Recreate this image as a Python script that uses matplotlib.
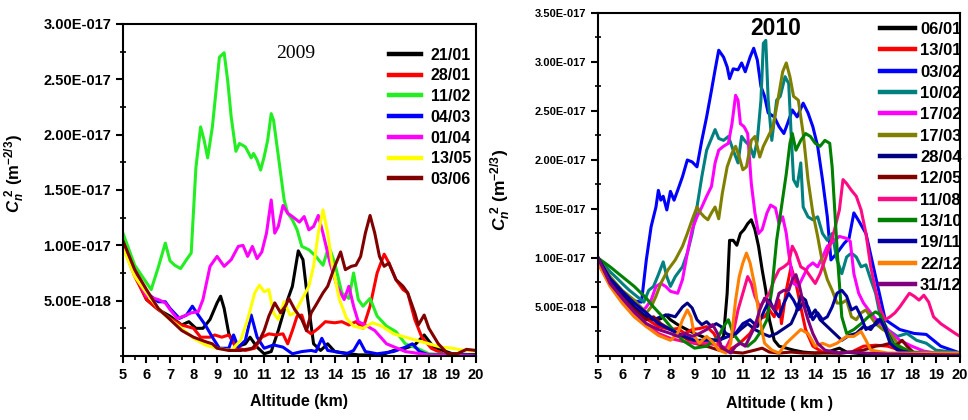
import numpy as np
import matplotlib
matplotlib.use("Agg")
import matplotlib.pyplot as plt
from matplotlib.ticker import FuncFormatter, MultipleLocator

plt.rcParams['font.family'] = ['Liberation Sans', 'DejaVu Sans']
plt.rcParams['font.weight'] = 'bold'
plt.rcParams['mathtext.fontset'] = 'custom'
plt.rcParams['mathtext.it'] = 'Liberation Sans:italic:bold'
plt.rcParams['mathtext.rm'] = 'Liberation Sans:bold'

SCALE = 1e-18   # values below are in units of 1e-18 m^-2/3

# ---------------- 2009 ----------------
dates_2009 = ['21/01', '28/01', '11/02', '04/03', '01/04', '13/05', '03/06']
colors_2009 = ['#000000', '#ff0000', '#22ee22', '#0000ff', '#ff00ff', '#ffff00', '#800000']

alt_2101 = [5, 5.5, 6, 6.5, 7, 7.5, 7.8, 8.1, 8.4, 8.7, 9.0, 9.15, 9.3, 9.5, 9.8, 10.2, 10.4, 10.7, 11.0, 11.3,
            11.6, 11.9, 12.2, 12.45, 12.65, 12.85, 13.1, 13.4, 13.7, 14.0, 15, 16, 16.5, 17.0, 17.4, 17.8, 18.2, 19, 20]
cn2_2101 = [10.5, 7.5, 5.1, 4.2, 3.6, 2.8, 3.1, 2.5, 2.5, 3.3, 4.8, 5.4, 4.3, 2.0, 0.8, 1.1, 1.7, 0.8, 0.2, 0.4,
            2.3, 4.5, 6.3, 9.5, 8.7, 5.1, 1.1, 0.5, 1.1, 0.4, 0.1, 0.1, 0.5, 0.7, 1.0, 1.9, 0.8, 0.2, 0.1]

alt_2801 = [5, 5.5, 6, 6.5, 7, 7.5, 8.0, 8.3, 8.7, 8.9, 9.2, 9.5, 9.8, 10.2, 10.6, 10.9, 11.2, 11.5, 11.8, 12.0,
            12.2, 12.4, 12.6, 12.8, 13.0, 13.3, 13.6, 14.0, 14.3, 14.6, 14.9, 15.2, 15.5, 15.8, 16.1, 16.3, 16.6,
            16.9, 17.1, 17.4, 17.7, 18.1, 18.6, 20]
cn2_2801 = [10.0, 7.2, 5.1, 4.2, 3.4, 2.8, 2.5, 1.7, 1.7, 1.9, 1.7, 1.9, 0.8, 0.5, 0.7, 1.7, 2.0, 1.9, 2.0, 1.1,
            2.3, 3.6, 3.7, 2.3, 2.0, 2.5, 3.1, 3.0, 3.1, 2.8, 3.1, 2.5, 4.5, 7.5, 9.2, 8.4, 6.9,
            6.0, 5.7, 3.3, 1.7, 0.7, 0.2, 0.1]

alt_1102 = [5, 5.5, 6.2, 6.5, 6.8, 7.0, 7.2, 7.45, 7.7, 7.9, 8.1, 8.3, 8.45, 8.6, 8.8, 9.0, 9.1, 9.3, 9.45, 9.6,
            9.8, 9.95, 10.2, 10.45, 10.55, 10.7, 10.85, 11.0, 11.15, 11.3, 11.4, 11.55, 11.7, 11.85, 12.0, 12.2,
            12.4, 12.6, 12.9, 13.2, 13.5, 13.75, 14.0, 14.3, 14.6, 14.8, 15.0, 15.2, 15.5, 15.8, 16.2, 16.6, 17.0,
            17.5, 18.0, 19, 20]
cn2_1102 = [11.1, 8.2, 6.0, 8.0, 10.2, 8.6, 8.2, 7.9, 8.7, 9.3, 17.0, 20.7, 19.5, 17.9, 20.7, 24.9, 27.0, 27.4, 24.9, 21.6,
            18.5, 19.2, 18.9, 17.9, 18.3, 17.7, 16.8, 18.0, 19.5, 21.9, 21.3, 18.9, 16.5, 14.1, 12.9, 12.3,
            11.4, 9.9, 9.6, 9.0, 8.2, 9.9, 8.4, 5.7, 5.2, 7.5, 5.1, 4.5, 5.2, 3.6, 2.7, 2.2, 1.1,
            0.7, 0.2, 0.1, 0.05]

alt_0403 = [5, 5.5, 6, 6.5, 6.8, 7.0, 7.4, 7.7, 7.95, 8.2, 8.5, 8.8, 9.1, 9.5, 9.7, 9.9, 10.2, 10.45, 10.7, 11.0,
            11.4, 11.8, 12.2, 12.6, 13.0, 13.2, 13.45, 13.7, 14.0, 14.5, 14.8, 15.05, 15.3, 15.8, 16.5, 17.0, 17.3,
            17.6, 18, 20]
cn2_0403 = [10.0, 7.5, 5.7, 4.9, 4.9, 4.3, 3.4, 3.7, 4.5, 3.7, 2.8, 1.7, 0.7, 0.7, 1.9, 0.8, 1.4, 3.7, 1.7, 0.7,
            1.0, 0.8, 0.2, 0.4, 0.5, 0.4, 1.6, 0.5, 0.4, 0.2, 0.5, 1.4, 0.4, 0.2, 0.4, 0.8, 1.1,
            0.4, 0.1, 0.1]

alt_0104 = [5, 5.5, 6.0, 6.5, 6.8, 7.0, 7.3, 7.6, 7.9, 8.2, 8.4, 8.7, 9.0, 9.3, 9.6, 9.9, 10.1, 10.3, 10.5, 10.7,
            10.9, 11.1, 11.3, 11.45, 11.6, 11.8, 12.0, 12.2, 12.5, 12.7, 12.9, 13.1, 13.3, 13.5, 13.8, 14.1, 14.4,
            14.6, 14.8, 15.0, 15.3, 15.7, 16.2, 17, 18, 20]
cn2_0104 = [10.2, 7.4, 5.4, 5.1, 4.8, 4.2, 3.4, 3.6, 3.9, 4.0, 5.1, 8.1, 9.0, 8.1, 8.7, 9.9, 10.0, 9.0, 9.9, 8.8,
            9.4, 11.1, 14.1, 11.1, 11.7, 13.6, 12.9, 12.6, 12.1, 12.6, 11.4, 11.7, 12.7, 11.1, 8.4, 6.3, 5.1,
            6.3, 4.5, 3.1, 2.8, 2.3, 1.1, 0.4, 0.1, 0.0]

alt_1305 = [5, 5.5, 6, 6.5, 7, 7.5, 8, 8.5, 9, 9.6, 10.0, 10.3, 10.6, 10.8, 11.0, 11.2, 11.4, 11.6, 11.85, 12.1,
            12.3, 12.6, 12.9, 13.1, 13.3, 13.5, 13.7, 13.9, 14.2, 14.5, 14.8, 15.2, 15.6, 16, 16.5, 17, 17.5, 18,
            18.5, 19, 19.5, 20]
cn2_1305 = [9.8, 7.2, 5.7, 4.3, 3.3, 2.5, 1.6, 1.0, 0.7, 0.5, 1.4, 3.3, 5.7, 6.4, 5.8, 6.0, 3.9, 3.3, 4.9, 3.7,
            3.9, 5.1, 6.3, 8.1, 11.1, 13.2, 11.1, 8.1, 5.1, 3.4, 2.7, 2.5, 3.0, 2.7, 2.0, 1.7, 1.4, 1.1,
            0.8, 0.7, 0.5, 0.4]

alt_0306 = [5, 5.5, 6, 6.5, 7, 7.5, 8, 8.5, 8.8, 9.0, 9.5, 10.0, 10.5, 10.8, 11.0, 11.2, 11.45, 11.7, 11.9, 12.05,
            12.3, 12.6, 12.8, 13.0, 13.2, 13.5, 13.7, 14.0, 14.25, 14.45, 14.7, 14.9, 15.1, 15.3, 15.5, 15.7, 15.9,
            16.1, 16.3, 16.6, 16.9, 17.1, 17.4, 17.55, 17.8, 18.0, 18.4, 18.8, 19.2, 19.6, 20]
cn2_0306 = [10.4, 7.8, 6.0, 4.3, 3.3, 2.3, 1.7, 1.3, 1.1, 0.7, 0.5, 0.5, 0.7, 1.4, 2.3, 3.6, 4.8, 3.9, 4.5, 5.2,
            4.2, 3.3, 2.3, 3.9, 4.6, 5.7, 6.3, 8.1, 9.4, 7.8, 8.1, 8.2, 9.0, 11.1, 12.7, 11.1, 9.0,
            8.1, 8.4, 6.9, 6.3, 5.7, 3.9, 2.8, 3.7, 2.5, 1.1, 0.2, 0.2, 0.6, 0.5]

# ---------------- 2010 ----------------
dates_2010 = ['06/01', '13/01', '03/02', '10/02', '17/02', '17/03', '28/04', '12/05', '11/08', '13/10',
              '19/11', '22/12', '31/12']
colors_2010 = ['#000000', '#ff0000', '#0000ff', '#008080', '#ff00ff', '#808000', '#000080', '#800000',
               '#ff0a84', '#008000', '#0000a0', '#ff8000', '#800080']

alt_0601 = [5, 5.5, 6, 6.5, 7, 7.3, 7.6, 7.8, 8.0, 8.3, 8.6, 9, 9.5, 10, 10.2, 10.35, 10.45, 10.6, 10.75, 10.9,
            11.05, 11.2, 11.35, 11.5, 11.65, 11.8, 11.95, 12.1, 12.3, 12.5, 12.8, 13.1, 13.5, 14, 14.5, 15, 15.3,
            16, 17, 20]
cn2_0601 = [10.0, 7.8, 6.1, 4.9, 4.0, 3.7, 3.8, 4.2, 3.7, 3.2, 2.8, 2.3, 1.8, 1.5, 2.0, 6.4, 11.8, 11.8, 11.3, 12.5,
            12.9, 13.5, 13.9, 12.9, 11.2, 8.8, 6.7, 3.7, 1.6, 1.0, 0.8, 0.6, 0.4, 0.3, 0.4, 0.8, 0.4,
            0.2, 0.1, 0.05]

alt_1301 = [5, 5.5, 6, 6.5, 7, 7.5, 8.0, 8.3, 8.6, 8.9, 9.2, 9.5, 9.8, 10.1, 10.4, 10.7, 11.0, 11.3, 11.6, 11.9,
            12.1, 12.3, 12.5, 12.6, 12.8, 13.0, 13.2, 13.4, 13.6, 13.9, 14.3, 15, 15.5, 16, 16.5, 17, 17.5, 18, 20]
cn2_1301 = [10.0, 7.6, 6.1, 4.9, 3.8, 3.0, 2.7, 2.8, 2.3, 2.7, 2.8, 3.0, 2.3, 0.8, 0.6, 1.0, 1.6, 2.3, 3.7, 4.0,
            4.7, 4.0, 5.7, 3.3, 6.7, 9.1, 7.4, 5.0, 2.7, 1.0, 0.4, 0.3, 0.4, 1.0, 1.1, 1.0, 0.6, 0.3, 0.1]

alt_0302 = [5, 5.5, 6, 6.3, 6.8, 7.0, 7.2, 7.4, 7.5, 7.6, 7.7, 7.85, 8.0, 8.15, 8.3, 8.5, 8.7, 8.9, 9.1, 9.3,
            9.5, 9.7, 9.85, 10.0, 10.2, 10.35, 10.45, 10.6, 10.8, 10.95, 11.1, 11.3, 11.45, 11.6, 11.75, 11.9,
            12.05, 12.3, 12.5, 12.7, 12.85, 13.05, 13.25, 13.5, 13.7, 13.9, 14.1, 14.3, 14.5, 14.65, 14.9, 15.2,
            15.4, 15.6, 15.8, 16.1, 16.5, 16.9, 17.5, 18.1, 18.6, 19.2, 20]
cn2_0302 = [10.0, 7.8, 6.5, 5.7, 5.5, 9.8, 13.2, 15.2, 16.9, 15.9, 16.3, 14.9, 16.8, 15.9, 16.9, 18.3, 20.0, 19.8, 19.3, 22.0,
            24.4, 27.1, 29.2, 31.2, 30.5, 29.5, 28.3, 29.3, 29.2, 29.9, 29.0, 30.5, 31.4, 30.2, 27.5, 26.5,
            24.8, 24.4, 23.4, 22.7, 23.7, 25.1, 24.4, 25.8, 24.8, 23.4, 21.4, 18.0, 14.2, 9.8, 10.5, 11.5,
            12.0, 14.6, 13.8, 12.5, 8.1, 3.7, 2.7, 2.3, 2.2, 1.0, 0.3]

alt_1002 = [5, 5.5, 5.8, 6.0, 6.3, 6.6, 6.9, 7.1, 7.3, 7.5, 7.7, 7.85, 8.0, 8.2, 8.5, 8.7, 8.9, 9.1, 9.3, 9.5,
            9.7, 9.85, 10.0, 10.2, 10.4, 10.6, 10.8, 10.95, 11.1, 11.3, 11.45, 11.6, 11.75, 11.85, 11.95, 12.05,
            12.2, 12.4, 12.55, 12.75, 12.9, 13.0, 13.1, 13.25, 13.4, 13.5, 13.7, 13.9, 14.1, 14.3, 14.5, 14.7,
            14.9, 15.1, 15.3, 15.5, 15.7, 15.9, 16.1, 16.3, 16.5, 16.7, 17.0, 17.4, 17.8, 18.2, 18.6, 19, 20]
cn2_1002 = [10.0, 8.6, 7.9, 7.4, 6.7, 6.1, 5.5, 6.7, 7.1, 8.3, 9.6, 8.1, 7.1, 8.1, 9.1, 10.5, 12.5, 15.2, 18.3, 21.0,
            22.2, 23.1, 22.2, 22.0, 22.4, 21.0, 19.7, 22.4, 21.9, 21.4, 20.3, 22.0, 26.1, 31.9, 32.2, 26.1,
            22.0, 26.1, 26.5, 28.5, 27.8, 22.7, 18.0, 17.3, 19.7, 15.2, 14.2, 13.9, 14.2, 12.5, 11.8, 12.5,
            9.8, 8.4, 10.1, 10.5, 10.1, 9.1, 9.3, 7.8, 6.4, 4.0, 2.7, 2.0, 2.3, 1.6, 1.3, 0.6, 0.3]

alt_1702 = [5, 5.5, 6, 6.5, 6.8, 7.0, 7.2, 7.4, 7.6, 7.8, 8.0, 8.3, 8.5, 8.7, 8.9, 9.1, 9.3, 9.5, 9.7, 9.85,
            10.0, 10.2, 10.4, 10.55, 10.7, 10.8, 10.9, 11.05, 11.2, 11.35, 11.5, 11.65, 11.8, 12.0, 12.15, 12.35,
            12.5, 12.65, 12.8, 12.9, 13.1, 13.3, 13.5, 13.7, 13.9, 14.1, 14.3, 14.5, 14.8, 15.0, 15.3, 15.45,
            15.6, 15.8, 16.0, 16.3, 16.6, 17.0, 17.5, 18, 18.5, 19, 20]
cn2_1702 = [9.5, 7.8, 6.2, 5.0, 4.5, 5.0, 5.7, 7.1, 7.4, 7.1, 6.6, 6.4, 7.8, 10.5, 12.9, 14.2, 15.2, 16.3, 17.3, 19.7,
            21.0, 21.4, 21.7, 23.7, 26.6, 26.1, 23.7, 23.4, 22.7, 17.6, 14.6, 12.5, 12.9, 14.6, 15.4, 15.1,
            13.5, 14.2, 12.5, 10.5, 7.4, 7.1, 8.1, 9.1, 9.5, 9.1, 10.1, 11.2, 11.8, 12.2, 12.0, 11.7,
            8.4, 6.4, 5.4, 4.4, 3.5, 2.7, 1.6, 1.0, 0.5, 0.3, 0.2]

alt_1703 = [5, 5.5, 6, 6.5, 7, 7.2, 7.4, 7.6, 7.9, 8.2, 8.5, 8.7, 8.9, 9.1, 9.25, 9.4, 9.55, 9.7, 9.85, 10.0,
            10.15, 10.35, 10.55, 10.7, 10.85, 11.0, 11.15, 11.35, 11.5, 11.7, 11.85, 12.05, 12.25, 12.45, 12.65,
            12.8, 12.95, 13.1, 13.3, 13.5, 13.7, 13.9, 14.1, 14.3, 14.5, 14.7, 14.9, 15.1, 15.3, 15.5, 15.7,
            15.9, 16.1, 16.3, 16.5, 16.8, 17.1, 17.5, 18, 20]
cn2_1703 = [10.0, 8.1, 6.7, 5.7, 4.4, 5.0, 6.1, 7.4, 8.8, 9.8, 11.2, 12.5, 13.9, 15.2, 14.6, 14.2, 13.9, 14.6, 15.2, 14.0,
            16.6, 19.3, 20.7, 21.4, 20.3, 19.0, 19.3, 22.0, 22.4, 20.3, 21.4, 22.4, 23.4, 26.1, 29.0,
            29.9, 28.5, 26.5, 26.1, 22.7, 18.0, 14.6, 12.2, 9.5, 7.8, 6.7, 5.4, 5.4, 5.7, 4.0, 3.7,
            4.4, 4.7, 4.0, 3.3, 2.7, 2.3, 1.0, 0.3, 0.1]

alt_2804 = [5, 5.5, 6, 6.5, 7, 7.3, 7.6, 7.9, 8.2, 8.5, 8.7, 8.9, 9.1, 9.3, 9.5, 9.7, 9.9, 10.1, 10.3, 10.6,
            10.9, 11.2, 11.5, 11.8, 12.1, 12.4, 12.7, 13.0, 13.2, 13.4, 13.6, 13.8, 14.0, 14.2, 14.5, 14.8, 15.1,
            15.4, 15.7, 16.0, 16.3, 16.6, 16.8, 17.0, 17.3, 17.6, 18, 20]
cn2_2804 = [10.0, 7.6, 6.4, 5.0, 4.0, 3.7, 4.0, 4.2, 4.0, 5.0, 5.4, 4.9, 3.7, 3.2, 3.5, 3.0, 3.3, 3.0, 2.3, 2.0,
            2.7, 3.3, 2.7, 2.3, 2.0, 2.3, 2.8, 3.3, 4.4, 6.1, 5.7, 4.0, 4.7, 3.7, 3.0, 2.3, 1.6,
            2.1, 2.3, 3.0, 2.7, 3.7, 3.7, 2.3, 1.0, 0.4, 0.2, 0.1]

alt_1205 = [5, 5.5, 6, 6.5, 7, 7.3, 7.6, 8, 8.5, 9, 9.5, 10, 10.5, 11, 11.5, 11.8, 12.1, 12.5, 13, 13.5,
            14, 15, 15.5, 16, 16.5, 16.8, 17.1, 17.3, 17.6, 17.8, 18.1, 20]
cn2_1205 = [10.0, 7.4, 5.9, 4.7, 3.7, 4.0, 3.3, 2.7, 2.0, 1.3, 1.0, 0.6, 0.4, 0.3, 0.6, 0.8, 0.4, 0.3, 0.4, 0.3,
            0.3, 0.3, 0.4, 0.6, 1.0, 1.1, 1.3, 1.0, 1.6, 1.0, 0.3, 0.1]

alt_1108 = [5, 5.5, 6, 6.5, 7, 7.5, 8, 8.5, 9, 9.5, 10, 10.3, 10.6, 10.8, 11.0, 11.2, 11.35, 11.5, 11.7, 11.9,
            12.1, 12.3, 12.5, 12.7, 12.9, 13.05, 13.2, 13.4, 13.6, 13.8, 14.0, 14.2, 14.4, 14.6, 14.8, 15.0,
            15.15, 15.3, 15.5, 15.7, 15.9, 16.1, 16.3, 16.5, 16.7, 16.9, 17.1, 17.3, 17.5, 17.7, 17.9, 18.1,
            18.3, 18.5, 18.7, 18.9, 19.2, 19.5, 19.8, 20]
cn2_1108 = [9.5, 7.2, 5.7, 4.4, 3.3, 2.3, 1.8, 1.5, 1.3, 1.3, 1.1, 0.8, 2.3, 4.7, 6.4, 8.1, 7.4, 6.1, 5.0, 5.7,
            6.4, 7.8, 8.8, 9.1, 9.5, 11.2, 10.5, 9.1, 8.8, 8.1, 7.4, 8.4, 9.8, 11.2, 12.9, 14.9,
            18.0, 17.6, 16.9, 16.3, 14.9, 12.5, 9.1, 6.7, 4.7, 3.7, 4.0, 4.4, 5.0, 5.7, 6.4, 6.1,
            5.7, 6.2, 5.5, 4.0, 3.3, 2.8, 2.3, 2.0]

alt_1310 = [5, 5.5, 6, 6.5, 7, 7.3, 7.6, 8, 8.5, 9, 9.5, 10, 10.2, 10.4, 10.6, 10.9, 11.2, 11.5, 11.8, 12.0,
            12.2, 12.4, 12.6, 12.8, 12.95, 13.05, 13.2, 13.4, 13.6, 13.8, 14.0, 14.2, 14.4, 14.6, 14.7, 14.8,
            14.95, 15.1, 15.3, 15.6, 15.9, 16.2, 16.5, 16.7, 16.9, 17.2, 17.6, 18, 19, 20]
cn2_1310 = [10.0, 9.1, 8.1, 7.1, 5.9, 5.0, 4.2, 3.0, 1.6, 0.8, 1.0, 2.0, 3.0, 3.7, 2.3, 1.3, 1.0, 1.6, 2.7, 3.7,
            6.7, 11.8, 15.2, 18.6, 21.7, 22.7, 21.0, 22.0, 22.7, 22.4, 21.7, 21.4, 22.0, 21.7, 19.3, 15.2,
            9.1, 4.0, 2.3, 2.7, 3.3, 4.0, 4.5, 4.2, 2.7, 1.3, 0.8, 0.4, 0.3, 0.2]

alt_1911 = [5, 5.5, 6, 6.5, 7, 7.5, 8, 8.5, 9, 9.5, 10, 10.4, 10.7, 11.0, 11.3, 11.6, 11.9, 12.1, 12.3, 12.5,
            12.7, 12.9, 13.1, 13.3, 13.5, 13.7, 13.9, 14.1, 14.3, 14.5, 14.7, 14.9, 15.1, 15.3, 15.5, 15.7, 15.9,
            16.1, 16.3, 16.5, 16.7, 16.9, 17.1, 17.4, 18, 20]
cn2_1911 = [10.0, 7.9, 6.6, 5.4, 4.4, 3.3, 2.7, 2.1, 1.6, 1.6, 1.6, 2.0, 2.3, 3.3, 3.7, 3.0, 4.7, 5.7, 4.7, 4.0,
            5.4, 6.4, 5.7, 4.7, 5.4, 5.0, 3.7, 4.4, 3.7, 4.0, 5.0, 6.4, 6.7, 6.1, 4.7, 5.0, 4.0,
            2.7, 3.0, 3.2, 3.7, 2.7, 1.3, 0.6, 0.3, 0.1]

alt_2212 = [5, 5.5, 6, 6.5, 7, 7.5, 8, 8.3, 8.5, 8.7, 8.85, 9.0, 9.2, 9.5, 9.8, 10.0, 10.3, 10.5, 10.7, 10.85,
            11.0, 11.15, 11.3, 11.5, 11.7, 11.9, 12.2, 12.5, 12.8, 13.1, 13.4, 13.7, 14.0, 14.3, 14.6, 14.9,
            15.3, 15.6, 15.9, 16.1, 16.3, 17, 18, 20]
cn2_2212 = [9.5, 7.1, 5.4, 4.0, 3.0, 2.1, 1.6, 2.3, 3.7, 4.7, 4.0, 2.0, 1.3, 2.0, 1.3, 0.6, 0.3, 1.3, 5.7, 8.1,
            9.5, 10.5, 9.5, 7.1, 3.7, 1.3, 0.6, 0.3, 1.3, 2.0, 2.7, 2.3, 1.0, 1.3, 1.0, 1.3,
            2.0, 2.0, 2.5, 1.6, 0.6, 0.3, 0.3, 0.3]

alt_3112 = [5, 5.5, 6, 6.5, 7, 7.5, 8, 8.3, 8.6, 8.9, 9.2, 9.5, 9.75, 9.95, 10.1, 10.3, 10.5, 10.7, 10.9, 11.1,
            11.3, 11.5, 11.7, 11.9, 12.1, 12.3, 12.5, 12.7, 12.9, 13.05, 13.2, 13.35, 13.5, 13.7, 13.9, 14.1,
            14.4, 15, 15.5, 16, 17, 20]
cn2_3112 = [10.0, 7.4, 5.9, 4.5, 3.3, 2.7, 2.3, 2.0, 2.3, 2.0, 2.3, 2.7, 3.2, 2.3, 1.0, 0.6, 0.3, 1.0, 1.3, 1.0,
            2.0, 3.0, 4.7, 5.9, 5.4, 4.7, 6.4, 6.7, 6.7, 7.8, 8.3, 7.1, 5.4, 3.7, 2.3, 1.3,
            0.6, 0.3, 0.4, 0.3, 0.2, 0.1]

series_2009 = [(alt_2101, cn2_2101), (alt_2801, cn2_2801), (alt_1102, cn2_1102), (alt_0403, cn2_0403),
               (alt_0104, cn2_0104), (alt_1305, cn2_1305), (alt_0306, cn2_0306)]
series_2010 = [(alt_0601, cn2_0601), (alt_1301, cn2_1301), (alt_0302, cn2_0302), (alt_1002, cn2_1002),
               (alt_1702, cn2_1702), (alt_1703, cn2_1703), (alt_2804, cn2_2804), (alt_1205, cn2_1205),
               (alt_1108, cn2_1108), (alt_1310, cn2_1310), (alt_1911, cn2_1911), (alt_2212, cn2_2212),
               (alt_3112, cn2_3112)]


def e_fmt(v, pos):
    m, e = f"{v:.2E}".split("E")
    return f"{m}E{int(e):+04d}"


def style_axes(ax, ymax, tick_size):
    ax.set_xlim(5, 20)
    ax.set_ylim(0, ymax)
    ax.xaxis.set_major_locator(MultipleLocator(1))
    ax.xaxis.set_minor_locator(MultipleLocator(0.5))
    ax.set_yticks(np.arange(5e-18, ymax + 1e-19, 5e-18))
    ax.yaxis.set_minor_locator(MultipleLocator(2.5e-18))
    ax.yaxis.set_major_formatter(FuncFormatter(e_fmt))
    ax.tick_params(axis='x', which='major', direction='out', length=5, width=1.5, labelsize=10.5, pad=4)
    ax.tick_params(axis='x', which='minor', direction='out', length=3, width=1.2)
    ax.tick_params(axis='y', which='major', direction='out', length=5, width=1.5, labelsize=tick_size)
    ax.tick_params(axis='y', which='minor', direction='inout', length=4, width=1.2)
    for sp in ax.spines.values():
        sp.set_linewidth(1.5)
    for lab in ax.get_xticklabels() + ax.get_yticklabels():
        lab.set_fontweight('bold')


fig = plt.figure(figsize=(9.68, 4.2), dpi=100)

# left panel, 2009
ax1 = fig.add_axes([0.127, 0.1524, 0.3647, 0.7905])
for (x, y), c, lab in zip(series_2009, colors_2009, dates_2009):
    ax1.plot(x, np.array(y) * SCALE, color=c, lw=2.2, label=lab)
style_axes(ax1, 3e-17, 10.5)
ax1.text(0.49, 0.91, '2009', transform=ax1.transAxes, ha='center', va='center',
         fontsize=14, fontweight='normal', family=['Liberation Serif', 'DejaVu Serif'])
ax1.set_xlabel('Altitude (km)', fontsize=11.5, fontweight='bold', labelpad=8)
ax1.set_ylabel(r'$C_n^{\ 2}$ (m$^{-2/3}$)', fontsize=12, fontweight='bold')
ax1.yaxis.set_label_coords(-0.272, 0.55)
leg1 = ax1.legend(loc='upper left', bbox_to_anchor=(0.754, 0.929), frameon=False, fontsize=11.5,
                  handlelength=2.0, handletextpad=0.6, labelspacing=0.36, borderpad=0, borderaxespad=0)
for h in leg1.get_lines():
    h.set_linewidth(3.2)

# right panel, 2010
ax2 = fig.add_axes([0.6178, 0.1524, 0.374, 0.8167])
for (x, y), c, lab in zip(series_2010, colors_2010, dates_2010):
    ax2.plot(x, np.array(y) * SCALE, color=c, lw=2.2, label=lab)
style_axes(ax2, 3.5e-17, 8)
ax2.text(0.49, 0.955, '2010', transform=ax2.transAxes, ha='center', va='center',
         fontsize=16.5, fontweight='bold')
ax2.set_xlabel('Altitude ( km )', fontsize=11.5, fontweight='bold', labelpad=10)
ax2.set_ylabel(r'$C_n^{\ 2}$ (m$^{-2/3}$)', fontsize=12.5, fontweight='bold')
ax2.yaxis.set_label_coords(-0.235, 0.484)
leg2 = ax2.legend(loc='upper left', bbox_to_anchor=(0.779, 0.974), frameon=False, fontsize=12,
                  handlelength=2.1, handletextpad=0.3, labelspacing=0.38, borderpad=0, borderaxespad=0)
for h in leg2.get_lines():
    h.set_linewidth(3.2)

fig.savefig('out.png', dpi=100)
